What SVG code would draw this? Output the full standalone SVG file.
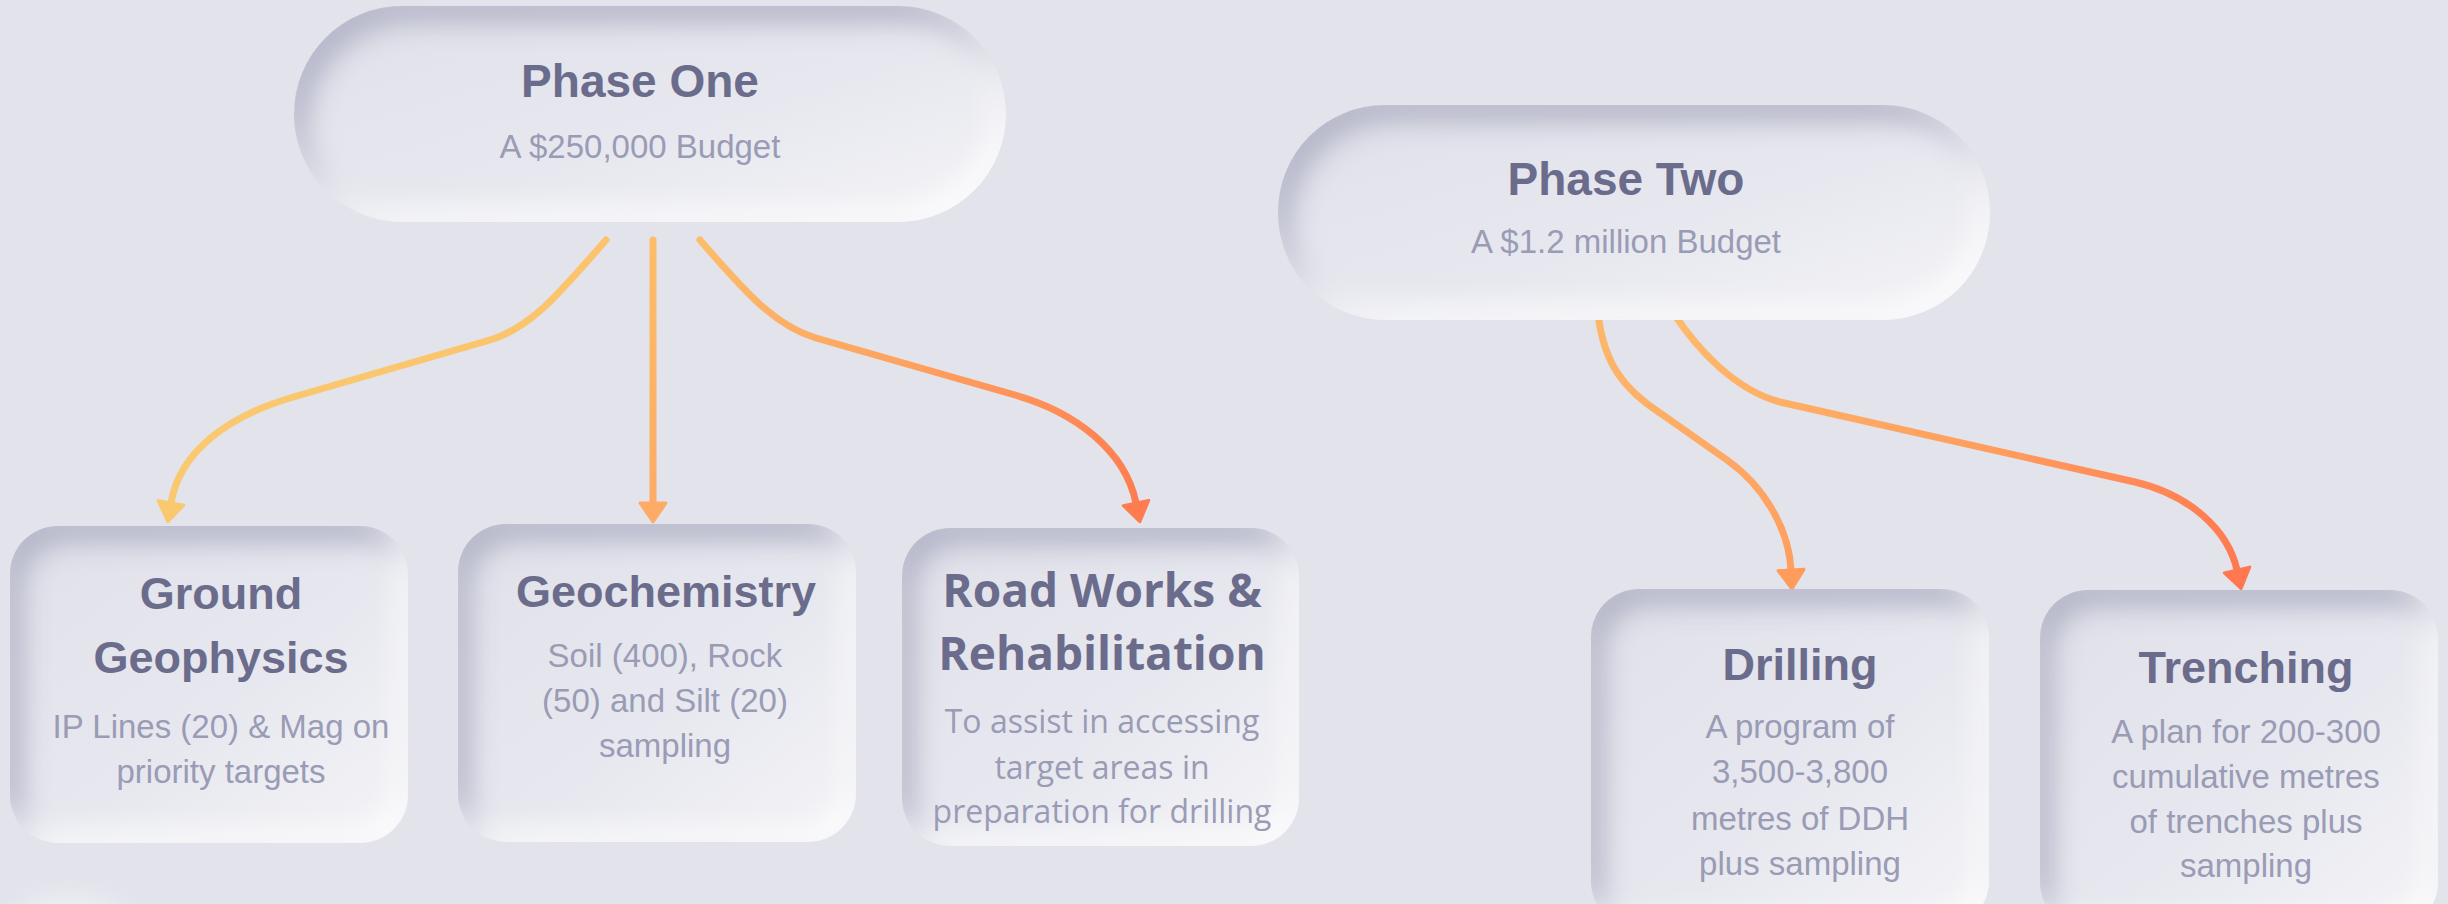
<svg xmlns="http://www.w3.org/2000/svg" width="2448" height="904" viewBox="0 0 2448 904">
<defs>
<style>
.title{font-family:"Liberation Sans",Arial,sans-serif;font-weight:bold;fill:#6b6c8c;text-anchor:middle}
.body{font-family:"Liberation Sans",Arial,sans-serif;fill:#9a9bb5;text-anchor:middle;font-size:33px}
.otitle{font-family:"Open Sans",sans-serif;font-weight:bold;fill:#6b6c8c;text-anchor:middle;font-size:46px}
.obody{font-family:"Open Sans",sans-serif;fill:#9a9bb5;text-anchor:middle;font-size:32px}
.node{fill:url(#nodeFill);filter:url(#neu)}
.conn{fill:none;stroke-width:7;stroke-linecap:round}
</style>
<linearGradient id="nodeFill" x1="0" y1="0" x2="1" y2="1">
<stop offset="0" stop-color="#dfe0e9"/>
<stop offset="0.55" stop-color="#e7e8ef"/>
<stop offset="1" stop-color="#f4f4f7"/>
</linearGradient>
<filter id="neu" x="-20%" y="-25%" width="140%" height="150%" color-interpolation-filters="sRGB">
<feFlood flood-color="#b3b4c7" result="c"/>
<feComposite in="c" in2="SourceAlpha" operator="out" result="outside"/>
<feOffset in="outside" dx="12" dy="16" result="o"/>
<feGaussianBlur in="o" stdDeviation="14" result="b"/>
<feComposite in="b" in2="SourceAlpha" operator="in" result="dark"/>
<feFlood flood-color="#ffffff" flood-opacity="0.7" result="w"/>
<feComposite in="w" in2="SourceAlpha" operator="out" result="outw"/>
<feOffset in="outw" dx="-12" dy="-14" result="ow"/>
<feGaussianBlur in="ow" stdDeviation="14" result="bw"/>
<feComposite in="bw" in2="SourceAlpha" operator="in" result="light"/>
<feMerge><feMergeNode in="SourceGraphic"/><feMergeNode in="dark"/><feMergeNode in="light"/></feMerge>
</filter>
<filter id="glow" x="-50%" y="-50%" width="200%" height="200%"><feGaussianBlur stdDeviation="12"/></filter>
<linearGradient id="g1" gradientUnits="userSpaceOnUse" x1="606" y1="240" x2="171" y2="523"><stop offset="0" stop-color="#fbc36c"/><stop offset="1" stop-color="#f9c970"/></linearGradient>
<linearGradient id="g2" gradientUnits="userSpaceOnUse" x1="653" y1="240" x2="653" y2="523"><stop offset="0" stop-color="#fdbd6a"/><stop offset="1" stop-color="#fdaa66"/></linearGradient>
<linearGradient id="g3" gradientUnits="userSpaceOnUse" x1="700" y1="240" x2="1136" y2="523"><stop offset="0" stop-color="#fcbd6b"/><stop offset="0.5" stop-color="#fe9f5e"/><stop offset="1" stop-color="#ff7b4f"/></linearGradient>
<linearGradient id="g4" gradientUnits="userSpaceOnUse" x1="1598" y1="314" x2="1791" y2="589"><stop offset="0" stop-color="#fdb86a"/><stop offset="1" stop-color="#ff9d5e"/></linearGradient>
<linearGradient id="g5" gradientUnits="userSpaceOnUse" x1="1674" y1="314" x2="2237" y2="589"><stop offset="0" stop-color="#feba6b"/><stop offset="0.55" stop-color="#ff9d5e"/><stop offset="1" stop-color="#ff7850"/></linearGradient>
<marker id="a1" markerUnits="userSpaceOnUse" viewBox="-3 -18 26 36" markerWidth="26" markerHeight="36" refX="0" refY="0" orient="auto"><path d="M0,-13 L19,0 L0,13 Z" fill="#f9c86f" stroke="#f9c86f" stroke-width="3" stroke-linejoin="round"/></marker>
<marker id="a2" markerUnits="userSpaceOnUse" viewBox="-3 -18 26 36" markerWidth="26" markerHeight="36" refX="0" refY="0" orient="auto"><path d="M0,-13 L19,0 L0,13 Z" fill="#fdab66" stroke="#fdab66" stroke-width="3" stroke-linejoin="round"/></marker>
<marker id="a3" markerUnits="userSpaceOnUse" viewBox="-3 -18 26 36" markerWidth="26" markerHeight="36" refX="0" refY="0" orient="auto"><path d="M0,-13 L19,0 L0,13 Z" fill="#ff7c50" stroke="#ff7c50" stroke-width="3" stroke-linejoin="round"/></marker>
<marker id="a4" markerUnits="userSpaceOnUse" viewBox="-3 -18 26 36" markerWidth="26" markerHeight="36" refX="0" refY="0" orient="auto"><path d="M0,-13 L19,0 L0,13 Z" fill="#ff9c5c" stroke="#ff9c5c" stroke-width="3" stroke-linejoin="round"/></marker>
<marker id="a5" markerUnits="userSpaceOnUse" viewBox="-3 -18 26 36" markerWidth="26" markerHeight="36" refX="0" refY="0" orient="auto"><path d="M0,-13 L19,0 L0,13 Z" fill="#ff7850" stroke="#ff7850" stroke-width="3" stroke-linejoin="round"/></marker>
</defs>
<rect x="0" y="0" width="2448" height="904" fill="#e2e3eb"/>
<ellipse cx="70" cy="925" rx="60" ry="30" fill="#ffffff" opacity="0.45" filter="url(#glow)"/>

<g id="connectors">
<path class="conn" stroke="url(#g1)" marker-end="url(#a1)" d="M606,240 C560,292 533,327 490,340 L290,398 C230,416 180,450 171,503"/>
<path class="conn" stroke="url(#g2)" stroke-width="6" marker-end="url(#a2)" d="M653,240 L653,503"/>
<path class="conn" stroke="url(#g3)" marker-end="url(#a3)" d="M700,240 C745,292 775,326 816,338 L1015,395 C1075,412 1125,450 1136,503"/>
<path class="conn" stroke="url(#g4)" marker-end="url(#a4)" d="M1598,314 C1604,365 1625,390 1660,413 L1727,460 C1765,487 1789,530 1791,570"/>
<path class="conn" stroke="url(#g5)" marker-end="url(#a5)" d="M1674,314 C1698,350 1735,390 1780,402 L2135,482 C2190,495 2228,530 2237,570"/>
</g>

<g id="phase-one">
<rect class="node" x="294" y="6" width="712" height="216" rx="108"/>
<text class="title" x="640" y="97" font-size="46">Phase One</text>
<text class="body" x="640" y="158">A $250,000 Budget</text>
</g>

<g id="phase-two">
<rect class="node" x="1278" y="105" width="712" height="215" rx="107"/>
<text class="title" x="1626" y="195" font-size="46">Phase Two</text>
<text class="body" x="1626" y="253">A $1.2 million Budget</text>
</g>

<g id="ground-geophysics">
<rect class="node" x="10" y="526" width="398" height="317" rx="48"/>
<text class="title" x="221" y="609" font-size="45">Ground</text>
<text class="title" x="221" y="673" font-size="45">Geophysics</text>
<text class="body" x="221" y="738">IP Lines (20) &amp; Mag on</text>
<text class="body" x="221" y="783">priority targets</text>
</g>

<g id="geochemistry">
<rect class="node" x="458" y="524" width="398" height="318" rx="48"/>
<text class="title" x="666" y="607" font-size="45">Geochemistry</text>
<text class="body" x="665" y="667">Soil (400), Rock</text>
<text class="body" x="665" y="712">(50) and Silt (20)</text>
<text class="body" x="665" y="757">sampling</text>
</g>

<g id="road-works">
<rect class="node" x="902" y="528" width="397" height="318" rx="48"/>
<text class="otitle" x="1102" y="607">Road Works &amp;</text>
<text class="otitle" x="1102" y="670">Rehabilitation</text>
<text class="obody" x="1102" y="733">To assist in accessing</text>
<text class="obody" x="1102" y="779">target areas in</text>
<text class="obody" x="1102" y="823">preparation for drilling</text>
</g>

<g id="drilling">
<rect class="node" x="1591" y="589" width="398" height="340" rx="48"/>
<text class="title" x="1800" y="680" font-size="45">Drilling</text>
<text class="body" x="1800" y="738">A program of</text>
<text class="body" x="1800" y="783">3,500-3,800</text>
<text class="body" x="1800" y="830">metres of DDH</text>
<text class="body" x="1800" y="875">plus sampling</text>
</g>

<g id="trenching">
<rect class="node" x="2040" y="590" width="398" height="340" rx="48"/>
<text class="title" x="2246" y="683" font-size="45">Trenching</text>
<text class="body" x="2246" y="743">A plan for 200-300</text>
<text class="body" x="2246" y="788">cumulative metres</text>
<text class="body" x="2246" y="833">of trenches plus</text>
<text class="body" x="2246" y="877">sampling</text>
</g>
</svg>
